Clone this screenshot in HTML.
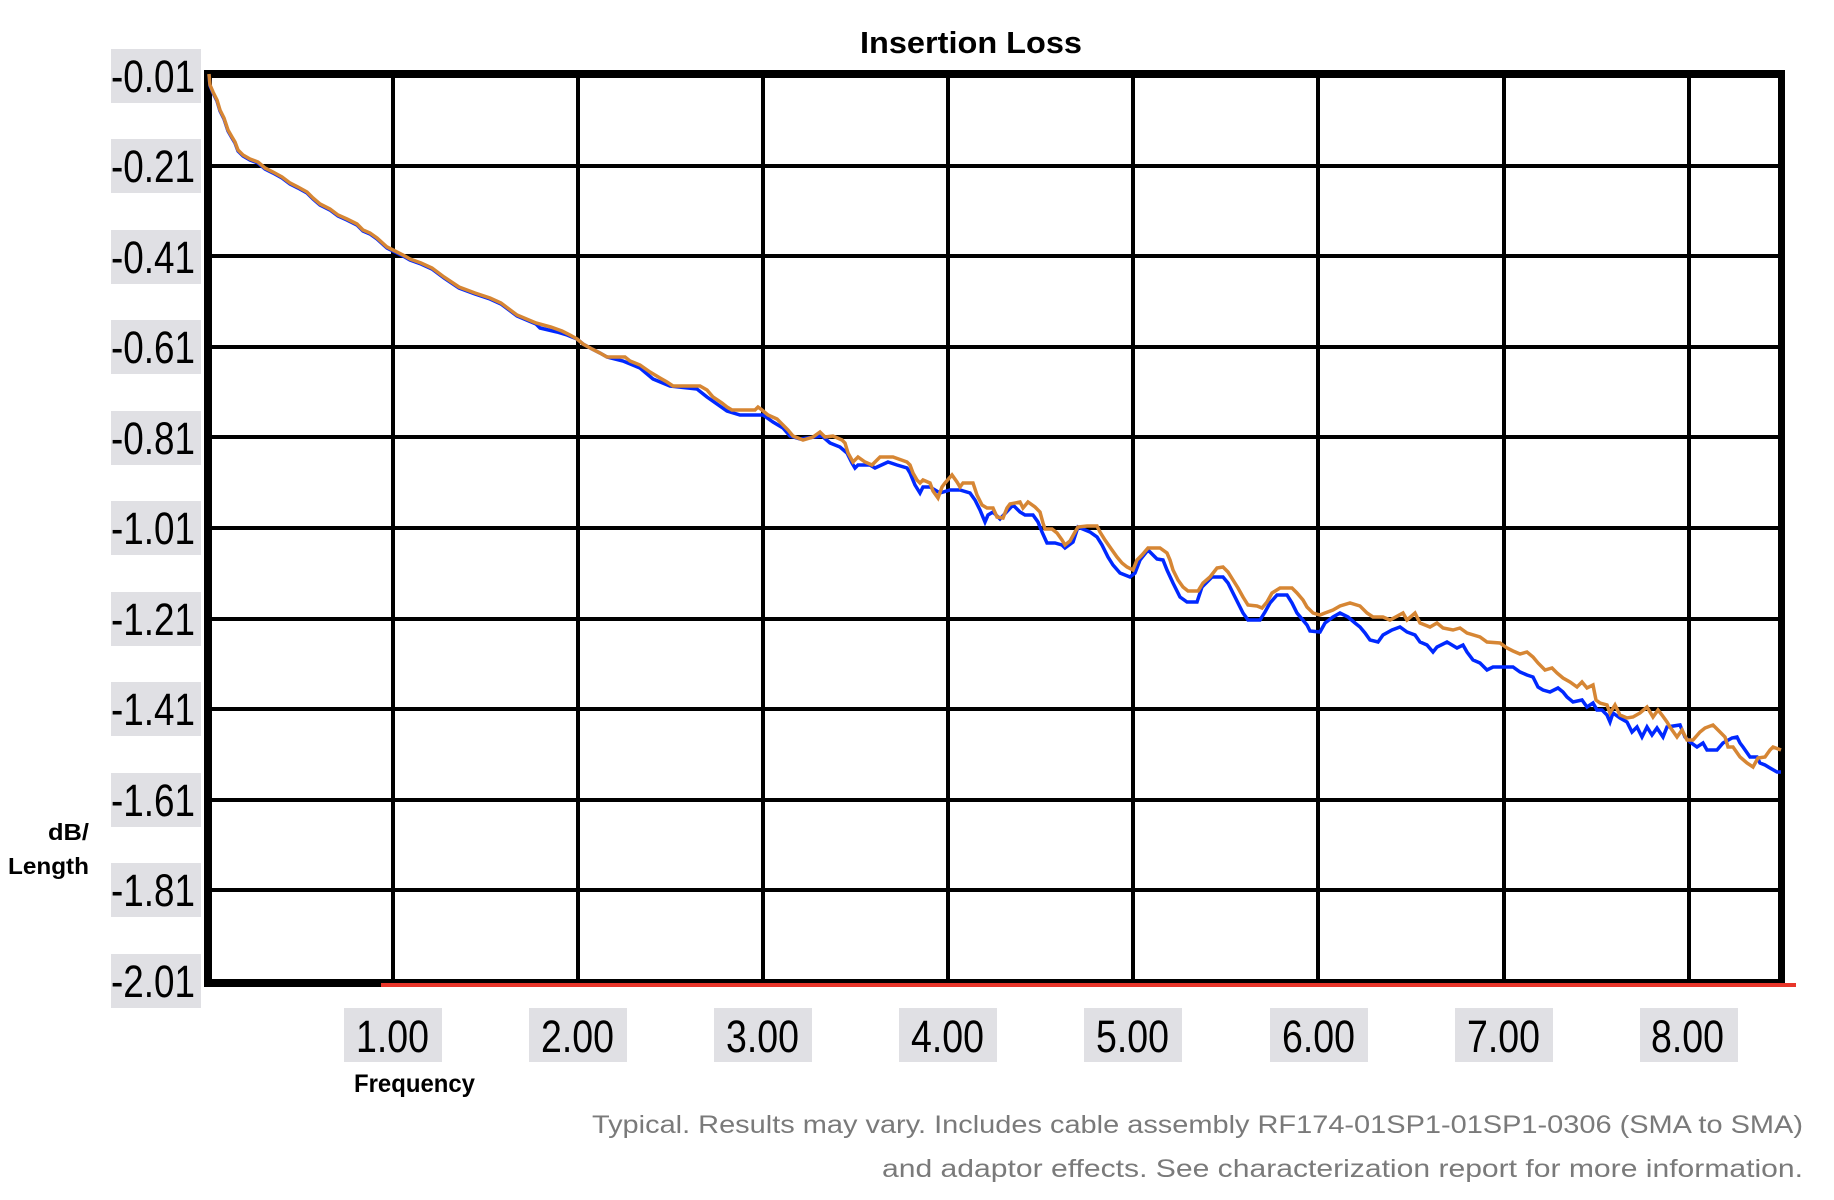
<!DOCTYPE html>
<html><head><meta charset="utf-8"><style>
html,body{margin:0;padding:0;background:#fff;}
svg{display:block;}
.tk{font-family:"Liberation Sans",sans-serif;font-size:45px;fill:#000;}
.lb{font-family:"Liberation Sans",sans-serif;font-weight:bold;fill:#000;}
.ft{font-family:"Liberation Sans",sans-serif;font-size:25px;fill:#7a7a7a;}
</style></head><body>
<svg width="1834" height="1200" viewBox="0 0 1834 1200" xmlns="http://www.w3.org/2000/svg">
<rect x="0" y="0" width="1834" height="1200" fill="#fff"/>
<text class="lb" x="860" y="53" font-size="31" textLength="222" lengthAdjust="spacingAndGlyphs">Insertion Loss</text>
<g fill="#000">
<rect x="391" y="74" width="4" height="907"/>
<rect x="576" y="74" width="4" height="907"/>
<rect x="761" y="74" width="4" height="907"/>
<rect x="946" y="74" width="4" height="907"/>
<rect x="1131" y="74" width="4" height="907"/>
<rect x="1316" y="74" width="4" height="907"/>
<rect x="1502" y="74" width="4" height="907"/>
<rect x="1687" y="74" width="4" height="907"/>
<rect x="208" y="164" width="1572" height="4"/>
<rect x="208" y="254" width="1572" height="4"/>
<rect x="208" y="345" width="1572" height="4"/>
<rect x="208" y="435" width="1572" height="4"/>
<rect x="208" y="526" width="1572" height="4"/>
<rect x="208" y="617" width="1572" height="4"/>
<rect x="208" y="707" width="1572" height="4"/>
<rect x="208" y="798" width="1572" height="4"/>
<rect x="208" y="888" width="1572" height="4"/>
<rect x="204" y="70" width="1581" height="8"/>
<rect x="204" y="74" width="8" height="913"/>
<rect x="1778" y="70" width="7" height="917"/>
<rect x="204" y="979" width="1581" height="8"/>
</g>
<rect x="381" y="983" width="1415" height="4" fill="#e8352a"/>
<g fill="#e0e0e4">
<rect x="111" y="49" width="90" height="54"/>
<rect x="111" y="139" width="90" height="54"/>
<rect x="111" y="230" width="90" height="54"/>
<rect x="111" y="320" width="90" height="54"/>
<rect x="111" y="411" width="90" height="54"/>
<rect x="111" y="501" width="90" height="54"/>
<rect x="111" y="592" width="90" height="54"/>
<rect x="111" y="682" width="90" height="54"/>
<rect x="111" y="773" width="90" height="54"/>
<rect x="111" y="863" width="90" height="54"/>
<rect x="111" y="954" width="90" height="54"/>
<rect x="344" y="1008" width="98" height="54"/>
<rect x="529" y="1008" width="98" height="54"/>
<rect x="714" y="1008" width="98" height="54"/>
<rect x="899" y="1008" width="98" height="54"/>
<rect x="1084" y="1008" width="98" height="54"/>
<rect x="1270" y="1008" width="98" height="54"/>
<rect x="1455" y="1008" width="98" height="54"/>
<rect x="1640" y="1008" width="98" height="54"/>
</g>
<g class="tk">
<text x="111" y="92" textLength="84" lengthAdjust="spacingAndGlyphs">-0.01</text>
<text x="111" y="182" textLength="84" lengthAdjust="spacingAndGlyphs">-0.21</text>
<text x="111" y="273" textLength="84" lengthAdjust="spacingAndGlyphs">-0.41</text>
<text x="111" y="363" textLength="84" lengthAdjust="spacingAndGlyphs">-0.61</text>
<text x="111" y="454" textLength="84" lengthAdjust="spacingAndGlyphs">-0.81</text>
<text x="111" y="544" textLength="84" lengthAdjust="spacingAndGlyphs">-1.01</text>
<text x="111" y="635" textLength="84" lengthAdjust="spacingAndGlyphs">-1.21</text>
<text x="111" y="725" textLength="84" lengthAdjust="spacingAndGlyphs">-1.41</text>
<text x="111" y="816" textLength="84" lengthAdjust="spacingAndGlyphs">-1.61</text>
<text x="111" y="906" textLength="84" lengthAdjust="spacingAndGlyphs">-1.81</text>
<text x="111" y="997" textLength="84" lengthAdjust="spacingAndGlyphs">-2.01</text>
<text x="356" y="1052" textLength="73" lengthAdjust="spacingAndGlyphs">1.00</text>
<text x="541" y="1052" textLength="73" lengthAdjust="spacingAndGlyphs">2.00</text>
<text x="726" y="1052" textLength="73" lengthAdjust="spacingAndGlyphs">3.00</text>
<text x="911" y="1052" textLength="73" lengthAdjust="spacingAndGlyphs">4.00</text>
<text x="1096" y="1052" textLength="73" lengthAdjust="spacingAndGlyphs">5.00</text>
<text x="1282" y="1052" textLength="73" lengthAdjust="spacingAndGlyphs">6.00</text>
<text x="1467" y="1052" textLength="73" lengthAdjust="spacingAndGlyphs">7.00</text>
<text x="1651" y="1052" textLength="73" lengthAdjust="spacingAndGlyphs">8.00</text>
</g>
<text class="lb" x="48" y="840" font-size="23" textLength="41" lengthAdjust="spacingAndGlyphs">dB/</text>
<text class="lb" x="8" y="874" font-size="23" textLength="81" lengthAdjust="spacingAndGlyphs">Length</text>
<text class="lb" x="354" y="1092" font-size="25" textLength="121" lengthAdjust="spacingAndGlyphs">Frequency</text>
<text class="ft" x="592" y="1133" textLength="1211" lengthAdjust="spacingAndGlyphs">Typical. Results may vary. Includes cable assembly RF174-01SP1-01SP1-0306 (SMA to SMA)</text>
<text class="ft" x="882" y="1177" textLength="921" lengthAdjust="spacingAndGlyphs">and adaptor effects. See characterization report for more information.</text>
<polyline fill="none" stroke="#0028ff" stroke-width="3.5" stroke-linejoin="miter" points="209,75 210,86 213,93 217,101 220,111 224,119 228,131 232,138 235,143 238,151 243,156 250,160 258,163 265,169 273,173 282,178 290,184 298,188 307,193 313,199 320,205 330,210 338,216 347,220 357,225 363,231 370,234 377,239 387,248 393,251 403,256 410,260 421,264 432,269 444,278 459,288 475,294 490,299 501,304 517,316 536,324 540,328 557,332 567,335 577,339 583,344 592,349 600,353 607,357 623,361 640,368 653,379 670,386 697,389 707,397 727,411 740,415 763,415 773,422 783,428 790,436 800,439 822,436 830,443 840,447 847,453 852,463 855,468 858,465 870,465 875,468 888,462 897,465 907,468 910,473 915,485 920,493 923,487 930,487 940,493 950,490 960,490 970,493 975,500 980,510 985,522 988,515 993,512 1000,519 1013,505 1020,512 1025,515 1033,515 1038,522 1042,532 1047,543 1055,543 1062,545 1065,548 1073,542 1078,527 1090,532 1097,537 1102,545 1108,557 1113,565 1120,573 1130,577 1135,573 1140,560 1148,550 1157,559 1163,560 1167,570 1173,583 1180,597 1187,602 1197,602 1202,587 1207,582 1212,577 1223,577 1228,583 1233,593 1238,603 1243,613 1248,620 1260,620 1265,612 1270,603 1277,595 1287,595 1292,603 1297,613 1307,625 1310,631 1320,632 1325,623 1333,617 1340,613 1348,617 1355,623 1360,627 1365,633 1370,640 1378,642 1383,635 1392,630 1400,627 1407,632 1415,635 1420,642 1427,645 1433,652 1437,647 1447,642 1452,645 1457,648 1463,645 1467,652 1473,660 1480,663 1487,670 1493,667 1513,667 1520,672 1527,675 1533,677 1538,687 1543,690 1550,692 1558,688 1563,692 1567,697 1573,702 1582,700 1587,707 1593,703 1597,710 1602,710 1607,715 1610,722 1613,713 1620,718 1627,722 1632,732 1637,727 1642,737 1647,727 1652,735 1657,728 1663,737 1667,727 1680,725 1685,737 1690,742 1697,747 1703,743 1707,750 1717,750 1723,743 1732,738 1737,737 1740,743 1743,747 1750,757 1757,757 1760,763 1765,765 1770,768 1777,772 1781,772"/>
<polyline fill="none" stroke="#d68634" stroke-width="3.5" stroke-linejoin="miter" points="209,74 210,85 213,92 217,100 220,110 224,118 228,130 232,137 235,142 238,150 243,155 250,159 258,162 265,168 273,172 282,177 290,183 298,187 307,192 313,198 320,204 330,209 338,215 347,219 357,224 363,230 370,233 377,238 387,247 393,250 403,255 410,259 421,263 432,268 444,277 459,287 475,293 490,298 501,303 517,315 536,323 551,327 562,331 570,335 577,339 583,344 592,349 600,353 607,357 625,357 630,361 640,365 650,372 660,378 667,382 673,386 700,386 707,390 713,397 722,403 727,407 732,410 755,410 758,407 762,410 768,415 777,419 783,425 788,430 793,436 803,440 813,437 820,432 825,437 833,436 842,440 845,443 848,453 853,462 858,457 865,462 872,465 880,457 893,457 907,462 910,465 913,473 917,480 920,483 923,480 930,483 933,491 938,498 942,487 945,483 952,475 957,482 960,487 963,483 973,483 977,495 982,505 987,508 993,508 997,517 1003,518 1007,508 1010,504 1020,502 1023,508 1028,502 1035,507 1040,512 1043,523 1045,529 1052,529 1057,533 1062,540 1065,545 1070,541 1075,532 1078,527 1087,526 1097,526 1100,532 1105,540 1112,550 1117,557 1122,563 1127,567 1133,570 1137,560 1142,555 1148,548 1160,548 1167,553 1170,560 1173,570 1178,580 1183,587 1188,591 1198,591 1203,583 1210,577 1217,568 1223,567 1228,572 1233,580 1238,588 1243,597 1248,605 1257,606 1262,608 1267,602 1272,593 1280,588 1292,588 1297,593 1303,600 1307,607 1313,613 1320,615 1325,613 1333,610 1340,606 1350,603 1360,606 1367,613 1373,617 1383,617 1390,620 1403,613 1407,620 1415,613 1420,623 1430,627 1437,623 1443,628 1453,630 1460,628 1467,633 1480,637 1487,642 1500,643 1507,648 1513,651 1520,654 1527,652 1533,657 1538,663 1545,670 1552,668 1557,673 1563,678 1570,682 1577,687 1582,682 1587,688 1593,685 1596,700 1600,703 1607,705 1610,713 1615,705 1620,715 1627,718 1633,717 1640,713 1647,707 1653,717 1658,710 1662,715 1667,722 1670,727 1677,737 1682,730 1687,740 1693,740 1700,732 1705,728 1713,725 1720,732 1725,737 1728,747 1733,747 1740,757 1747,763 1753,767 1758,758 1765,757 1770,750 1773,747 1781,750"/>
</svg>
</body></html>
